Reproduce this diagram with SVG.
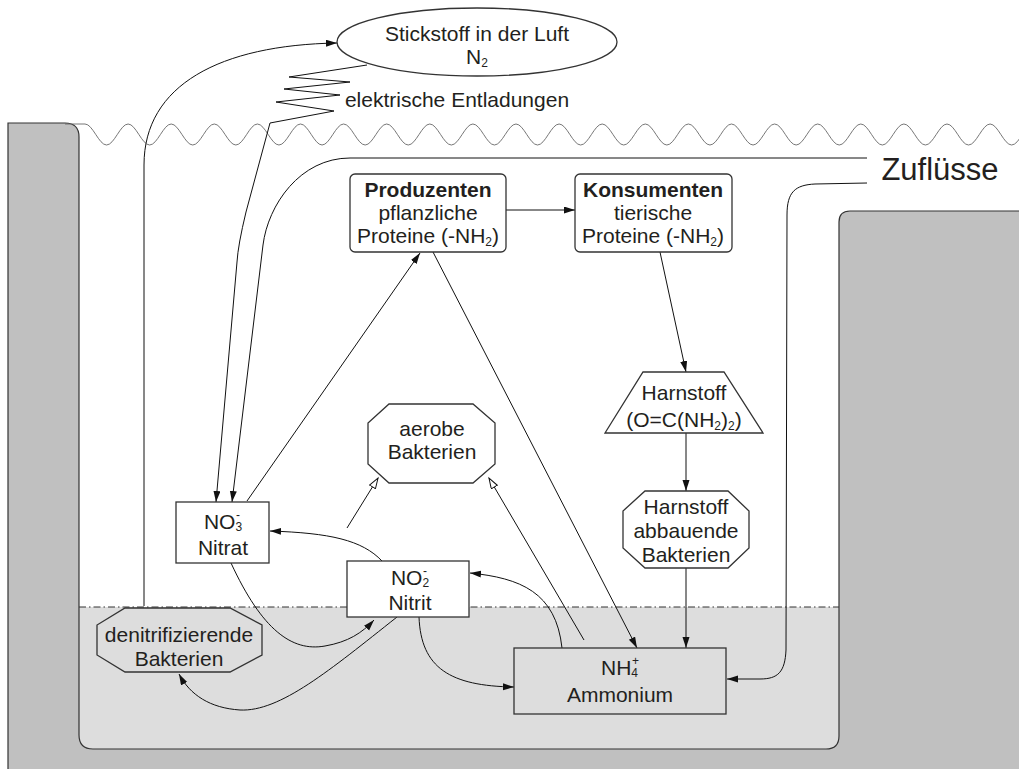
<svg xmlns="http://www.w3.org/2000/svg" width="1019" height="769" viewBox="0 0 1019 769">
<style>
text{font-family:"Liberation Sans",Arial,sans-serif;font-size:21px;fill:#231f20;text-anchor:middle}
.b{font-weight:bold}
.s{font-size:12px}
.node{stroke:#333;stroke-width:1.3}
.c{fill:none;stroke:#111;stroke-width:1}
</style>
<defs>
<marker id="arr" markerUnits="userSpaceOnUse" markerWidth="12" markerHeight="8" refX="11" refY="3.5" orient="auto"><path d="M0,0 L11,3.5 L0,7 z" fill="#111"/></marker>
<marker id="open" markerUnits="userSpaceOnUse" markerWidth="13" markerHeight="10" refX="11" refY="4" orient="auto"><path d="M0.5,0.5 L11,4 L0.5,7.5 z" fill="#fff" stroke="#111" stroke-width="1"/></marker>
</defs>
<g id="background">
<rect x="79" y="607" width="760" height="142" fill="#dddddd"/>
<path d="M8 123 L65 123 Q79 123 79 137 L79 735 Q79 749 93 749 L826 749 Q839 749 839 736 L839 222 Q839 211 850 211 L1019 211 L1019 769 L8 769 Z" fill="#c0c0c0"/>
<path d="M8 769 L8 123 L65 123 Q79 123 79 137 L79 735 Q79 749 93 749 L826 749 Q839 749 839 736 L839 222 Q839 211 850 211 L1019 211" fill="none" stroke="#333" stroke-width="1.2"/>
<path d="M79 607 L839 607" stroke="#333" stroke-width="1" stroke-dasharray="7 3 1.5 3"/>
<path d="M65 124 L85 124 c 7.76 0 13.79 21 21.55 21 s 13.79 -21 21.55 -21 s 13.79 21 21.55 21 s 13.79 -21 21.55 -21 s 13.79 21 21.55 21 s 13.79 -21 21.55 -21 s 13.79 21 21.55 21 s 13.79 -21 21.55 -21 s 13.79 21 21.55 21 s 13.79 -21 21.55 -21 s 13.79 21 21.55 21 s 13.79 -21 21.55 -21 s 13.79 21 21.55 21 s 13.79 -21 21.55 -21 s 13.79 21 21.55 21 s 13.79 -21 21.55 -21 s 13.79 21 21.55 21 s 13.79 -21 21.55 -21 s 13.79 21 21.55 21 s 13.79 -21 21.55 -21 s 13.79 21 21.55 21 s 13.79 -21 21.55 -21 s 13.79 21 21.55 21 s 13.79 -21 21.55 -21 s 13.79 21 21.55 21 s 13.79 -21 21.55 -21 s 13.79 21 21.55 21 s 13.79 -21 21.55 -21 s 13.79 21 21.55 21 s 13.79 -21 21.55 -21 s 13.79 21 21.55 21 s 13.79 -21 21.55 -21 s 13.79 21 21.55 21 s 13.79 -21 21.55 -21 s 13.79 21 21.55 21 s 13.79 -21 21.55 -21 s 13.79 21 21.55 21 s 13.79 -21 21.55 -21 s 13.79 21 21.55 21 s 13.79 -21 21.55 -21 s 13.79 21 21.55 21 s 13.79 -21 21.55 -21 s 13.79 21 21.55 21 s 13.79 -21 21.55 -21 s 13.79 21 21.55 21" fill="none" stroke="#666" stroke-width="0.9"/>
<text x="940" y="180" style="font-size:31px">Zuflüsse</text>
<text x="457" y="107">elektrische Entladungen</text>
</g>
<g id="connectors">
<path class="c" d="M144 606 L144 165 C144 85 220 45 337 43" marker-end="url(#arr)"/>
<path class="c" d="M367 65 L289 77 L350 82 L284 89 L340 95 L276 102 L334 111 L270 123 L246 212 Q238 245 237 262 L216 502" marker-end="url(#arr)"/>
<path class="c" d="M867 158 L350 158 C300 158 268 205 263 245 L232 502" marker-end="url(#arr)"/>
<path class="c" d="M867 183 L815 184 C795 185 787 192 787 215 L786 650 C785 672 778 679 760 679 L727 679" marker-end="url(#arr)"/>
<path class="c" d="M506 210 L575 210" marker-end="url(#arr)"/>
<path class="c" d="M247 501 L420 253" marker-end="url(#arr)"/>
<path class="c" d="M433 252 L637 648" marker-end="url(#arr)"/>
<path class="c" d="M660 252 L686 372" marker-end="url(#arr)"/>
<path class="c" d="M686 433 L686 491" marker-end="url(#arr)"/>
<path class="c" d="M686 568 L686 648" marker-end="url(#arr)"/>
<path class="c" d="M584 640 L489 478" marker-end="url(#open)"/>
<path class="c" d="M347 528 L378 478" marker-end="url(#open)"/>
<path class="c" d="M382 561 C362 540 330 533 270 531" marker-end="url(#arr)"/>
<path class="c" d="M562 648 C556 592 520 578 470 573" marker-end="url(#arr)"/>
<path class="c" d="M231 563 C262 630 292 652 325 646 C348 642 362 633 374 620" marker-end="url(#arr)"/>
<path class="c" d="M397 617 C330 670 280 712 240 710 C210 708 190 695 179 674" marker-end="url(#arr)"/>
<path class="c" d="M419 617 C421 668 450 686 514 687" marker-end="url(#arr)"/>
</g>
<g id="stickstoff">
<ellipse class="node" cx="477" cy="42" rx="140" ry="34" fill="#fff"/>
<text x="477" y="41">Stickstoff in der Luft</text>
<text x="477" y="64">N<tspan class="s" dy="3">2</tspan></text>
</g>
<g id="produzenten">
<rect class="node" x="350" y="174" width="156" height="78" rx="5" fill="#fff"/>
<text x="428" y="197" class="b">Produzenten</text>
<text x="428" y="220">pflanzliche</text>
<text x="428" y="243">Proteine (-NH<tspan class="s" dy="3">2</tspan><tspan dy="-3">)</tspan></text>
</g>
<g id="konsumenten">
<rect class="node" x="575" y="174" width="157" height="78" rx="5" fill="#fff"/>
<text x="653" y="197" class="b">Konsumenten</text>
<text x="653" y="220">tierische</text>
<text x="653" y="243">Proteine (-NH<tspan class="s" dy="3">2</tspan><tspan dy="-3">)</tspan></text>
</g>
<g id="harnstoff">
<polygon class="node" points="643,372 724,372 763,433 605,433" fill="#fff"/>
<text x="684" y="400">Harnstoff</text>
<text x="684" y="427">(O=C(NH<tspan class="s" dy="3">2</tspan><tspan dy="-3">)</tspan><tspan class="s" dy="3">2</tspan><tspan dy="-3">)</tspan></text>
</g>
<g id="harnstoff-bakterien">
<polygon class="node" points="645,491 728,491 749,511 749,548 728,568 645,568 623,548 623,511" fill="#fff"/>
<text x="686" y="514">Harnstoff</text>
<text x="686" y="538">abbauende</text>
<text x="686" y="562">Bakterien</text>
</g>
<g id="aerobe">
<polygon class="node" points="389,404 473,404 495,423 495,464 473,483 389,483 368,464 368,423" fill="#fff"/>
<text x="432" y="436">aerobe</text>
<text x="432" y="459">Bakterien</text>
</g>
<g id="nitrat">
<rect class="node" x="176" y="502" width="93" height="61" fill="#fff"/>
<text x="223" y="529">NO<tspan class="s" dy="2">3</tspan><tspan class="s" dx="-6" dy="-12">-</tspan></text>
<text x="223" y="555">Nitrat</text>
</g>
<g id="nitrit">
<rect class="node" x="347" y="561" width="122" height="56" fill="#fff"/>
<text x="410" y="585">NO<tspan class="s" dy="2">2</tspan><tspan class="s" dx="-6" dy="-12">-</tspan></text>
<text x="410" y="610">Nitrit</text>
</g>
<g id="denitrifizierende">
<polygon class="node" points="125,608 230,608 262,625 262,655 230,672 125,672 97,655 97,625" fill="#dddddd"/>
<text x="179" y="642">denitrifizierende</text>
<text x="179" y="666">Bakterien</text>
</g>
<g id="ammonium">
<rect class="node" x="514" y="648" width="212" height="66" fill="#dddddd"/>
<text x="620" y="675">NH<tspan class="s" dy="2">4</tspan><tspan class="s" dx="-6" dy="-12">+</tspan></text>
<text x="620" y="702">Ammonium</text>
</g>
</svg>
